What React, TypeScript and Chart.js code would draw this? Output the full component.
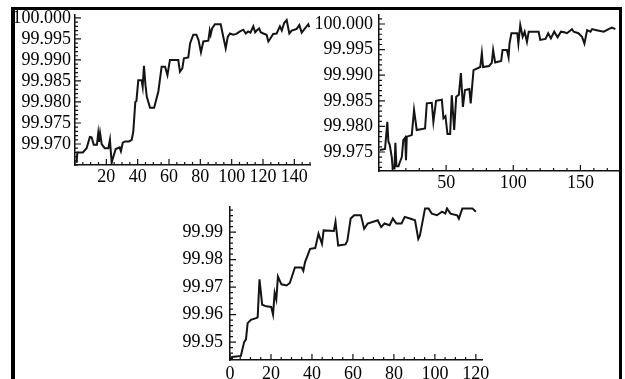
import React, { useEffect, useRef } from 'react';
import { Chart, registerables } from 'chart.js';

Chart.register(...registerables);

// ---------- data ----------
const TL_X = [1, 1.5, 5, 7.4, 9.5, 10.6, 12, 14, 14.8, 15.3, 16, 17, 19, 21.3, 22.3, 23.4, 24.5, 26, 28.5, 29.3, 30.5, 32, 34.5, 36.2, 37.2, 38.5, 39.2, 40.4, 42.5, 43.2, 44, 45, 45.8, 47.9, 50.5, 53.2, 55.3, 57.5, 59, 60.6, 65.9, 67, 68.5, 69.5, 72.3, 73.5, 75.5, 77.5, 78.8, 80.4, 81.9, 85.1, 86, 86.6, 87.5, 89.3, 93, 94.6, 96.2, 97.5, 98.9, 101, 103, 105.3, 107.4, 109, 110.5, 112, 113.8, 115, 116, 117.5, 118.5, 120.2, 122.3, 123.4, 124.5, 126.5, 128.7, 130.8, 132, 133.5, 135.1, 136.8, 138.3, 140, 141.5, 143.2, 144.7, 146.8, 148.9, 149.5];
const TL_Y = [99.9655, 99.968, 99.968, 99.969, 99.9717, 99.9716, 99.9698, 99.9698, 99.9725, 99.9705, 99.9726, 99.97, 99.969, 99.969, 99.971, 99.9655, 99.967, 99.9688, 99.9692, 99.9683, 99.9703, 99.9706, 99.9706, 99.971, 99.9729, 99.98, 99.9802, 99.9852, 99.9852, 99.9836, 99.9886, 99.984, 99.9813, 99.9786, 99.9786, 99.9825, 99.9884, 99.9884, 99.9864, 99.99, 99.99, 99.9872, 99.988, 99.9904, 99.9906, 99.994, 99.996, 99.996, 99.9948, 99.9918, 99.9944, 99.9946, 99.997, 99.996, 99.9975, 99.9985, 99.9985, 99.9956, 99.9928, 99.9955, 99.9963, 99.996, 99.9962, 99.9968, 99.9972, 99.9963, 99.9968, 99.9965, 99.998, 99.9966, 99.997, 99.9975, 99.9966, 99.9963, 99.996, 99.9944, 99.995, 99.9962, 99.9963, 99.998, 99.997, 99.9988, 99.9995, 99.9963, 99.997, 99.9972, 99.9974, 99.9983, 99.9965, 99.9975, 99.9985, 99.9978];

const TR_X = [0.75, 4.5, 6.2, 7, 8, 9.5, 10.2, 11.5, 12.2, 13, 14.5, 15.5, 17, 18.1, 19.5, 20.1, 20.7, 24.4, 26.1, 28.1, 34.3, 35.6, 39.3, 40.5, 42.5, 46.8, 48, 49.5, 51, 53, 54.2, 56, 57.5, 59.5, 61, 62.5, 64, 67.3, 68.3, 70.4, 75.4, 76.6, 77.5, 82, 84, 85, 86.5, 91, 92, 95.3, 96.5, 97.2, 98.6, 103, 103.8, 105.2, 107, 108.5, 110.2, 111.5, 118.9, 120.1, 124, 126, 128, 130.5, 133, 135.5, 138, 140, 143.7, 145, 148.5, 151.2, 153, 155, 157.5, 158.7, 162, 167.4, 171, 173.5, 176];
const TR_Y = [99.9754, 99.9756, 99.9809, 99.977, 99.9764, 99.974, 99.9718, 99.9718, 99.9768, 99.9722, 99.9722, 99.973, 99.974, 99.9773, 99.9778, 99.9734, 99.978, 99.9783, 99.9832, 99.9793, 99.9796, 99.9845, 99.9846, 99.9809, 99.985, 99.9852, 99.9816, 99.982, 99.9785, 99.9785, 99.9861, 99.9793, 99.9858, 99.9862, 99.9904, 99.9838, 99.9871, 99.9873, 99.9845, 99.991, 99.9916, 99.9943, 99.9916, 99.9918, 99.9924, 99.9949, 99.9925, 99.9928, 99.9949, 99.9949, 99.9935, 99.9962, 99.9982, 99.9982, 99.9962, 99.9998, 99.9975, 99.9985, 99.9965, 99.9985, 99.9985, 99.9969, 99.9971, 99.9982, 99.9972, 99.9985, 99.9974, 99.9985, 99.9984, 99.9982, 99.999, 99.9985, 99.9982, 99.9975, 99.9962, 99.9988, 99.9985, 99.999, 99.9988, 99.9985, 99.999, 99.9993, 99.999];

const BC_X = [0.5, 1, 5.3, 6.9, 7.8, 8.6, 10.2, 12.7, 13.5, 14.4, 15.7, 17.7, 20.1, 21, 21.8, 22.6, 23.4, 25.1, 27.6, 29.2, 31.7, 35, 35.8, 36.6, 39.1, 41.6, 43.2, 44.9, 45.7, 50.7, 51.5, 52.8, 56.4, 57.3, 58.9, 60.6, 63.9, 65.5, 67.2, 72.1, 73.8, 75.4, 77.9, 79.5, 81.2, 83.7, 85.3, 87.8, 90.3, 91.9, 92.7, 95.2, 96.9, 98.5, 101, 103.5, 105.1, 105.9, 107.6, 110.9, 111.7, 113.4, 118.3, 120];
const BC_Y = [99.944, 99.9446, 99.945, 99.95, 99.951, 99.9569, 99.9581, 99.9587, 99.959, 99.9728, 99.9636, 99.963, 99.9628, 99.96, 99.9679, 99.9655, 99.9738, 99.971, 99.9706, 99.9715, 99.9771, 99.9771, 99.9759, 99.979, 99.9839, 99.9842, 99.9894, 99.9857, 99.9906, 99.9904, 99.9937, 99.9851, 99.9855, 99.9869, 99.9949, 99.9961, 99.9961, 99.9912, 99.9931, 99.9943, 99.9918, 99.9931, 99.9925, 99.9949, 99.9931, 99.9931, 99.9955, 99.9949, 99.9943, 99.9875, 99.9888, 99.9986, 99.9986, 99.9967, 99.9961, 99.9974, 99.9967, 99.9986, 99.9967, 99.9961, 99.9949, 99.9986, 99.9986, 99.9974];

const TL_X_TICKS = [20, 40, 60, 80, 100, 120, 140];
const TL_Y_TICKS = [99.97, 99.975, 99.98, 99.985, 99.99, 99.995, 100.0];
const TR_X_TICKS = [50, 100, 150];
const TR_Y_TICKS = [99.975, 99.98, 99.985, 99.99, 99.995, 100.0];
const BC_X_TICKS = [0, 20, 40, 60, 80, 100, 120];
const BC_Y_TICKS = [99.95, 99.96, 99.97, 99.98, 99.99];

// ---------- panel settings ----------
const PANELS = [
  {
    key: 'tl', xs: TL_X, ys: TL_Y, xTicks: TL_X_TICKS, yTicks: TL_Y_TICKS,
    xMin: 0, xMax: 150, yMin: 99.965, yMax: 100.0007, dec: 3, xMinor: 5, yMinor: 0.001,
    left: 15, top: 0, width: 300, height: 195, yW: 60, xH: 30,
    pad: { top: 15, right: 5, left: 0, bottom: 0 }, yPad: 4, xPad: 3,
  },
  {
    key: 'tr', xs: TR_X, ys: TR_Y, xTicks: TR_X_TICKS, yTicks: TR_Y_TICKS,
    xMin: 0, xMax: 178, yMin: 99.97129, yMax: 100.00176, dec: 3, xMinor: 10, yMinor: 0.001,
    left: 315, top: 0, width: 304, height: 196, yW: 64, xH: 25,
    pad: { top: 15, right: 1, left: 0, bottom: 0 }, yPad: 6, xPad: 3,
  },
  {
    key: 'bc', xs: BC_X, ys: BC_Y, xTicks: BC_X_TICKS, yTicks: BC_Y_TICKS,
    xMin: 0, xMax: 123, yMin: 99.9435, yMax: 99.9991, dec: 2, xMinor: 5, yMinor: 0.002,
    left: 150, top: 185, width: 350, height: 194, yW: 80, xH: 19,
    pad: { top: 22, right: 18, left: 0, bottom: 0 }, yPad: 7, xPad: 5,
  },
];

const FONT = { family: '"Liberation Serif", "Times New Roman", serif', size: 18, lineHeight: 1 };

function multiples(min: number, max: number, step: number): number[] {
  const out: number[] = [];
  const a = Math.ceil(min / step - 1e-9);
  const b = Math.floor(max / step + 1e-9);
  for (let k = a; k <= b; k++) out.push(k * step);
  return out;
}

const tickMarks = {
  id: 'tickMarks',
  beforeDatasetsDraw(chart: any, _args: any, opts: any) {
    const { ctx, chartArea, scales } = chart;
    const xs = scales.x;
    const ys = scales.y;
    ctx.save();
    ctx.strokeStyle = '#111';
    ctx.lineWidth = 1.2;
    ctx.beginPath();
    const drawY = (vals: number[], len: number) => {
      for (const v of vals) {
        const p = ys.getPixelForValue(v);
        if (p < chartArea.top - 0.5 || p > chartArea.bottom + 0.5) continue;
        ctx.moveTo(chartArea.left, p);
        ctx.lineTo(chartArea.left + len, p);
      }
    };
    const drawX = (vals: number[], len: number) => {
      for (const v of vals) {
        const p = xs.getPixelForValue(v);
        if (p < chartArea.left - 0.5 || p > chartArea.right + 0.5) continue;
        ctx.moveTo(p, chartArea.bottom);
        ctx.lineTo(p, chartArea.bottom - len);
      }
    };
    drawY(opts.yMinor, 3);
    drawY(opts.yMajor, 6);
    drawX(opts.xMinor, 3);
    drawX(opts.xMajor, 6);
    ctx.stroke();
    ctx.restore();
  },
};

function Panel({ p }: { p: any }) {
  const ref = useRef<HTMLCanvasElement | null>(null);
  useEffect(() => {
    if (!ref.current) return;
    const data = p.xs.map((x: number, i: number) => ({ x, y: p.ys[i] }));
    const chart = new Chart(ref.current, {
      type: 'line',
      data: {
        datasets: [
          {
            data,
            borderColor: '#141414',
            borderWidth: 2,
            pointRadius: 0,
            tension: 0,
            fill: false,
          },
        ],
      },
      options: {
        animation: false,
        responsive: false,
        maintainAspectRatio: false,
        devicePixelRatio: 1,
        events: [],
        layout: { padding: p.pad },
        plugins: {
          legend: { display: false },
          tooltip: { enabled: false },
          tickMarks: {
            yMajor: p.yTicks,
            xMajor: p.xTicks,
            yMinor: multiples(p.yMin, p.yMax, p.yMinor),
            xMinor: multiples(p.xMin, p.xMax, p.xMinor),
          },
        } as any,
        scales: {
          x: {
            type: 'linear',
            min: p.xMin,
            max: p.xMax,
            grid: { display: false, drawTicks: false },
            border: { display: true, color: '#111', width: 1.5 },
            ticks: {
              autoSkip: false,
              maxRotation: 0,
              padding: p.xPad,
              color: '#000',
              font: FONT,
              callback: (v: any) => String(v),
            },
            afterBuildTicks: (s: any) => {
              s.ticks = p.xTicks.map((v: number) => ({ value: v }));
            },
            afterFit: (s: any) => {
              s.height = p.xH;
            },
          },
          y: {
            type: 'linear',
            min: p.yMin,
            max: p.yMax,
            grid: { display: false, drawTicks: false },
            border: { display: true, color: '#111', width: 1.5 },
            ticks: {
              autoSkip: false,
              padding: p.yPad,
              color: '#000',
              font: FONT,
              callback: (v: any) => Number(v).toFixed(p.dec),
            },
            afterBuildTicks: (s: any) => {
              s.ticks = p.yTicks.map((v: number) => ({ value: v }));
            },
            afterFit: (s: any) => {
              s.width = p.yW;
            },
          },
        },
      } as any,
      plugins: [tickMarks],
    });
    return () => chart.destroy();
  }, [p]);
  return (
    <canvas
      ref={ref}
      width={p.width}
      height={p.height}
      style={{
        position: 'absolute',
        left: p.left,
        top: p.top,
        width: p.width,
        height: p.height,
        display: 'block',
      }}
    />
  );
}

export default function App() {
  return (
    <div
      style={{
        position: 'absolute',
        left: 0,
        top: 0,
        width: 625,
        height: 379,
        overflow: 'hidden',
        background: '#fff',
      }}
    >
      <div
        style={{
          position: 'absolute',
          left: 11,
          top: 7,
          width: 611,
          height: 380,
          boxSizing: 'border-box',
          borderLeft: '4px solid #000',
          borderTop: '3px solid #000',
          borderRight: '3px solid #000',
        }}
      />
      {PANELS.map((p) => (
        <Panel key={p.key} p={p} />
      ))}
    </div>
  );
}
